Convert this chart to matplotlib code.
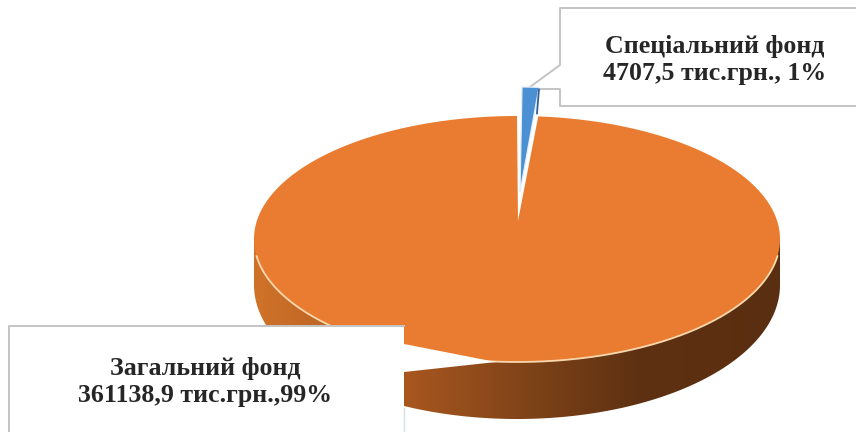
import numpy as np
import matplotlib
matplotlib.use('Agg')
import matplotlib.pyplot as plt
from matplotlib.patches import Polygon
from matplotlib.colors import LinearSegmentedColormap

fund_values = [4707.5, 361138.9]
fund_labels = ['Спеціальний фонд\n4707,5 тис.грн., 1%', 'Загальний фонд\n361138,9 тис.грн.,99%']

plt.rcParams['font.family'] = ['Liberation Serif', 'DejaVu Serif']

fig = plt.figure(figsize=(8.56, 4.32), dpi=100)
ax = fig.add_axes([0, 0, 1, 1])
ax.set_xlim(0, 856)
ax.set_ylim(432, 0)
ax.axis('off')

# Pie geometry in pixels
cx, cy = 517, 239
rx, ry = 263, 123
share = fund_values[0] / sum(fund_values)

# Side wall gradient, clipped to the lower rim of the pie
side = LinearSegmentedColormap.from_list('side', [
    (0.0, '#d0732a'), (0.285, '#a9571f'), (0.52, '#7f4318'), (0.73, '#5e3112'), (1.0, '#5a2e10')])
grad = np.linspace(0, 1, 256).reshape(1, -1)
im = ax.imshow(grad, cmap=side, extent=[cx - rx, cx + rx, 420, cy], aspect='auto', zorder=1)
t = np.linspace(0, np.pi, 200)
wall = np.vstack([
    np.column_stack([cx + rx * np.cos(t), 285 + 134 * np.sin(t)]),
    [[cx - rx, cy], [cx + rx, cy]],
])
clip = Polygon(wall, closed=True, transform=ax.transData, fc='none', ec='none')
ax.add_patch(clip)
im.set_clip_path(clip)
ax.set_xlim(0, 856)
ax.set_ylim(432, 0)

# Top face: slice angle comes from the values
theta = np.linspace(90 - 360 * share, 90 - 360, 400)
xs = cx + rx * np.cos(np.radians(theta))
ys = cy - ry * np.sin(np.radians(theta))
big = np.vstack([[518, 221], np.column_stack([xs, ys])])
ax.add_patch(Polygon(big, closed=True, fc='#e97c30', ec='none', zorder=2))

# Light rim along the front of the top face
t_rim = np.radians(np.linspace(8, 172, 200))
ax.plot(cx + rx * np.cos(t_rim), cy + ry * np.sin(t_rim), color='#f9d8ae', lw=1.3, zorder=3)

# Small exploded slice
theta2 = np.linspace(90, 90 - 360 * share, 20)
xs2 = cx + 5 + 210 * np.cos(np.radians(theta2))
ys2 = 210 - ry * np.sin(np.radians(theta2))
small = np.vstack([[520, 192], np.column_stack([xs2, ys2])])

# Callout boxes: white fill, grey outline on the visible sides only
box1 = [(560, 8), (856, 8), (856, 106), (560, 106), (560, 89), (535, 88), (530, 87), (560, 65)]
ax.add_patch(Polygon(box1, closed=True, fc='white', ec='none', zorder=4))
ax.plot([856, 560, 560, 530], [8, 8, 65, 87], color='#c4c4c4', lw=1.4, zorder=5)
ax.plot([536, 560, 560, 856], [89, 89, 106, 106], color='#c4c4c4', lw=1.4, zorder=5)

ax.add_patch(Polygon(small, closed=True, fc='#4a90d2', ec='#e4eef8', lw=0.9, zorder=6))
ax.plot([xs2[-1], xs2[-1] - 2], [ys2[-1] + 2, ys2[-1] + 26], color='#2f5f95', lw=1.3, zorder=6)

box2 = [(9, 326), (404, 326), (404, 344), (496, 362), (404, 372), (404, 432), (9, 432)]
ax.add_patch(Polygon(box2, closed=True, fc='white', ec='none', zorder=4))
ax.plot([9, 9, 404], [432, 326, 326], color='#c4c4c4', lw=1.4, zorder=5)
ax.plot([404, 404], [408, 432], color='#d5dfe8', lw=1.0, zorder=5)

ax.text(715, 60, fund_labels[0], ha='center', va='center', fontsize=18.6, fontweight='bold',
        color='#262626', linespacing=1.25, zorder=7)
ax.text(205, 382, fund_labels[1], ha='center', va='center', fontsize=18.6, fontweight='bold',
        color='#262626', linespacing=1.25, zorder=7)

fig.savefig('out.png', dpi=100)
